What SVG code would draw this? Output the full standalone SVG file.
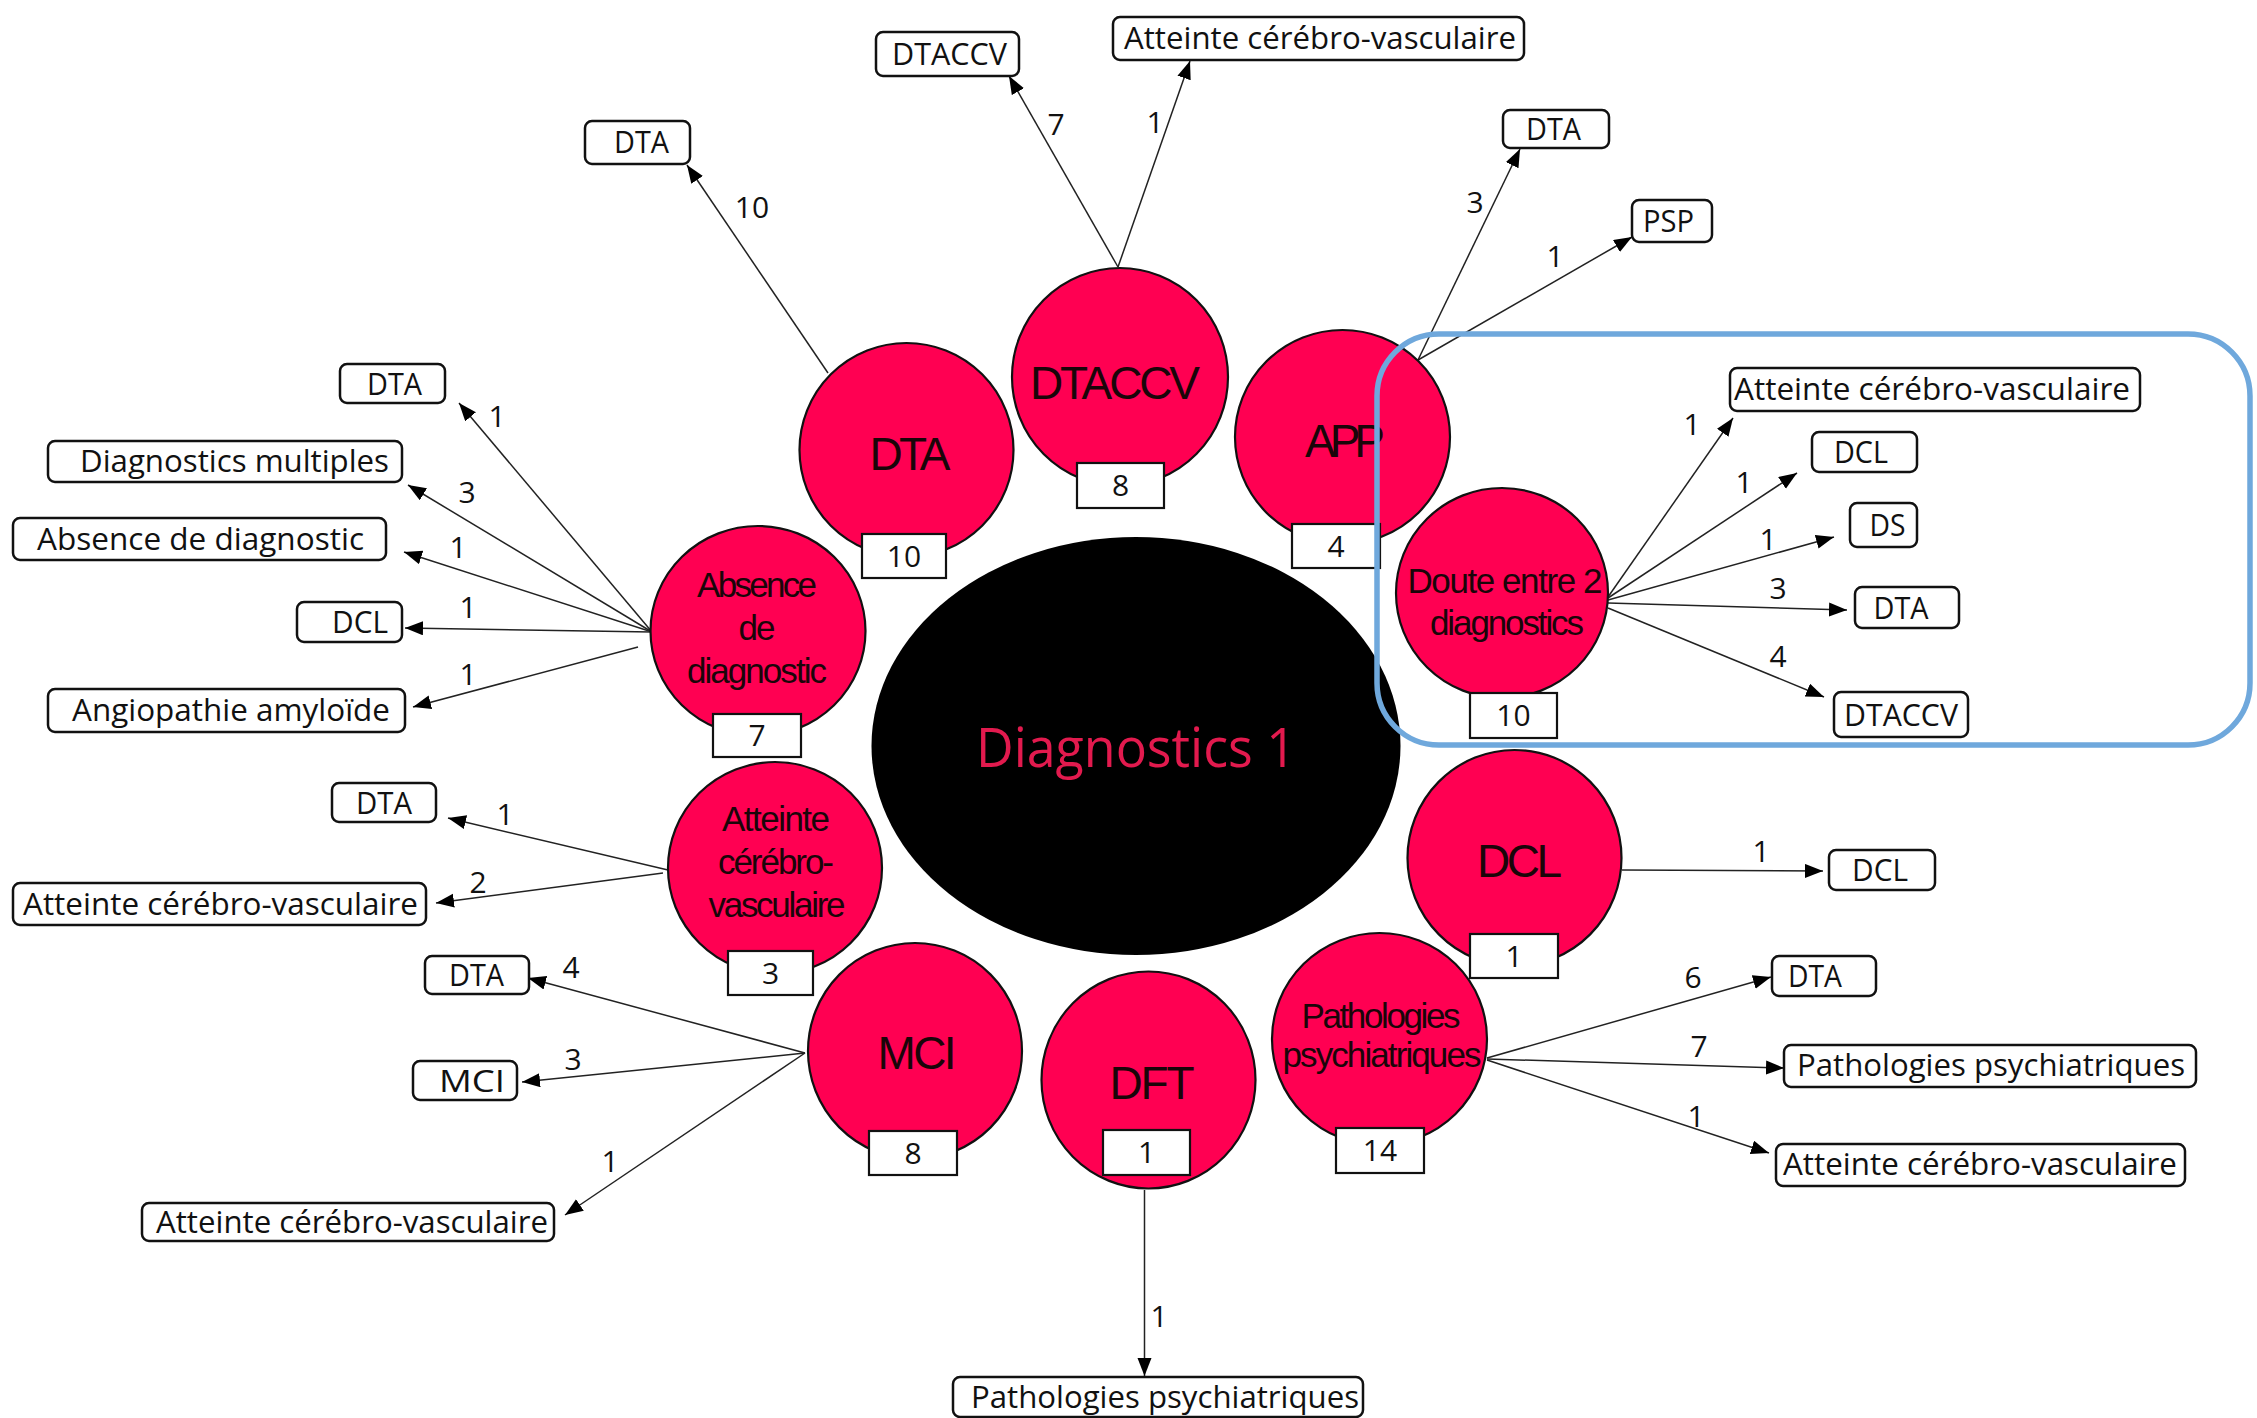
<svg xmlns="http://www.w3.org/2000/svg" width="2257" height="1418" viewBox="0 0 2257 1418">
  <style>
    .bubble { fill: #FF0052; stroke: #111; stroke-width: 2.2; }
    .core { fill: #000; }
    .core-label { font-family: "Open Sans", "Liberation Sans", sans-serif; font-size: 55px; fill: #E21A4E; text-anchor: middle; }
    .big { font-family: "Liberation Sans", Arial, sans-serif; font-size: 46px; fill: #1a0509; text-anchor: middle; }
    .small { font-family: "Liberation Sans", Arial, sans-serif; font-size: 35px; fill: #1a0509; text-anchor: middle; }
    .count rect { fill: #fff; stroke: #111; stroke-width: 2.2; }
    .count text, .edge-label { font-family: "Open Sans", "Liberation Sans", sans-serif; font-size: 30px; fill: #111; text-anchor: middle; }
    .target rect { fill: #fff; stroke: #111; stroke-width: 2.5; }
    .target text { font-family: "Open Sans", "Liberation Sans", sans-serif; font-size: 31px; fill: #111; }
    .link { stroke: #222; stroke-width: 1.5; fill: none; marker-end: url(#tip); }
    .frame { fill: none; stroke: #6FA8DC; stroke-width: 5.5; }
  </style>
  <defs>
    <marker id="tip" markerWidth="20" markerHeight="16" refX="18" refY="7" orient="auto" markerUnits="userSpaceOnUse">
      <path d="M0,0 L18,7 L0,14 z" fill="#000"/>
    </marker>
  </defs>

  <rect width="2257" height="1418" fill="#fff"/>

  <!-- centre -->
  <g id="diagnostics-1">
    <ellipse class="core" cx="1136" cy="746" rx="264.5" ry="209"/>
    <text class="core-label" x="1136" y="767" textLength="320" lengthAdjust="spacingAndGlyphs">Diagnostics 1</text>
  </g>

  <!-- connectors -->
  <g id="connectors">
    <line class="link" x1="828" y1="373" x2="687" y2="165"/>
    <line class="link" x1="1118" y1="267" x2="1009" y2="76"/>
    <line class="link" x1="1118" y1="267" x2="1190" y2="61"/>
    <line class="link" x1="1418" y1="360" x2="1520" y2="149"/>
    <line class="link" x1="1418" y1="360" x2="1632" y2="237"/>
    <line class="link" x1="1608" y1="597" x2="1733" y2="418"/>
    <line class="link" x1="1608" y1="598" x2="1797" y2="473"/>
    <line class="link" x1="1608" y1="600" x2="1834" y2="537"/>
    <line class="link" x1="1608" y1="603" x2="1847" y2="610"/>
    <line class="link" x1="1608" y1="608" x2="1824" y2="697"/>
    <line class="link" x1="1622" y1="870" x2="1823" y2="871"/>
    <line class="link" x1="1487" y1="1058" x2="1771" y2="977"/>
    <line class="link" x1="1487" y1="1059" x2="1784" y2="1068"/>
    <line class="link" x1="1487" y1="1060" x2="1769" y2="1153"/>
    <line class="link" x1="1144.5" y1="1190" x2="1144.5" y2="1376"/>
    <line class="link" x1="805" y1="1053" x2="528" y2="978"/>
    <line class="link" x1="805" y1="1053" x2="522" y2="1082"/>
    <line class="link" x1="805" y1="1053" x2="565" y2="1215"/>
    <line class="link" x1="668" y1="870" x2="448" y2="818"/>
    <line class="link" x1="663" y1="873" x2="436" y2="903"/>
    <line class="link" x1="652" y1="632" x2="459" y2="403"/>
    <line class="link" x1="652" y1="632" x2="408" y2="485"/>
    <line class="link" x1="652" y1="632" x2="404" y2="552"/>
    <line class="link" x1="652" y1="632" x2="405" y2="628"/>
    <line class="link" x1="638" y1="647" x2="413" y2="707"/>
  </g>

  <!-- edge counts -->
  <g id="edge-counts">
    <text class="edge-label" x="752" y="218">10</text>
    <text class="edge-label" x="1056" y="135">7</text>
    <text class="edge-label" x="1155" y="133">1</text>
    <text class="edge-label" x="1475" y="213">3</text>
    <text class="edge-label" x="1555" y="267">1</text>
    <text class="edge-label" x="1692" y="435">1</text>
    <text class="edge-label" x="1744" y="493">1</text>
    <text class="edge-label" x="1768" y="550">1</text>
    <text class="edge-label" x="1778" y="599">3</text>
    <text class="edge-label" x="1778" y="667">4</text>
    <text class="edge-label" x="1761" y="862">1</text>
    <text class="edge-label" x="1693" y="988">6</text>
    <text class="edge-label" x="1699" y="1057">7</text>
    <text class="edge-label" x="1696" y="1127">1</text>
    <text class="edge-label" x="1159" y="1327">1</text>
    <text class="edge-label" x="571" y="978">4</text>
    <text class="edge-label" x="573" y="1070">3</text>
    <text class="edge-label" x="610" y="1172">1</text>
    <text class="edge-label" x="505" y="825">1</text>
    <text class="edge-label" x="478" y="893">2</text>
    <text class="edge-label" x="497" y="427">1</text>
    <text class="edge-label" x="467" y="503">3</text>
    <text class="edge-label" x="458" y="558">1</text>
    <text class="edge-label" x="468" y="618">1</text>
    <text class="edge-label" x="468" y="685">1</text>
  </g>

  <!-- first-diagnosis bubbles -->
  <g id="node-dta">
    <ellipse class="bubble" cx="906.5" cy="450" rx="107" ry="107"/>
    <text class="big" x="910" y="470" textLength="81" lengthAdjust="spacing">DTA</text>
    <g class="count"><rect x="862" y="534" width="84" height="44"/><text x="904" y="567">10</text></g>
  </g>
  <g id="node-dtaccv">
    <ellipse class="bubble" cx="1120" cy="377" rx="108" ry="109"/>
    <text class="big" x="1115" y="399" textLength="170" lengthAdjust="spacing">DTACCV</text>
    <g class="count"><rect x="1077" y="463" width="87" height="45"/><text x="1120.5" y="496">8</text></g>
  </g>
  <g id="node-app">
    <ellipse class="bubble" cx="1342.5" cy="437" rx="107.5" ry="107"/>
    <text class="big" x="1345" y="457" textLength="80" lengthAdjust="spacing">APP</text>
    <g class="count"><rect x="1292" y="524" width="88" height="44"/><text x="1336" y="557">4</text></g>
  </g>
  <g id="node-doute">
    <ellipse class="bubble" cx="1502" cy="593" rx="106" ry="105"/>
    <text class="small" x="1505" y="593" textLength="195" lengthAdjust="spacing">Doute entre 2</text>
    <text class="small" x="1507" y="635" textLength="154" lengthAdjust="spacing">diagnostics</text>
    <g class="count"><rect x="1470" y="693" width="87" height="45"/><text x="1513.5" y="726">10</text></g>
  </g>
  <g id="node-dcl">
    <ellipse class="bubble" cx="1514.5" cy="858" rx="107" ry="108"/>
    <text class="big" x="1519.5" y="877" textLength="85" lengthAdjust="spacing">DCL</text>
    <g class="count"><rect x="1470" y="934" width="88" height="44"/><text x="1514" y="967">1</text></g>
  </g>
  <g id="node-patho">
    <ellipse class="bubble" cx="1379.5" cy="1039" rx="107.5" ry="106"/>
    <text class="small" x="1381" y="1028" textLength="159" lengthAdjust="spacing">Pathologies</text>
    <text class="small" x="1382" y="1067" textLength="199" lengthAdjust="spacing">psychiatriques</text>
    <g class="count"><rect x="1336" y="1128" width="88" height="45"/><text x="1380" y="1161">14</text></g>
  </g>
  <g id="node-dft">
    <ellipse class="bubble" cx="1148.5" cy="1080" rx="107" ry="108.5"/>
    <text class="big" x="1152" y="1099" textLength="85" lengthAdjust="spacing">DFT</text>
    <g class="count"><rect x="1103" y="1130" width="87" height="45"/><text x="1146.5" y="1163">1</text></g>
  </g>
  <g id="node-mci">
    <ellipse class="bubble" cx="915" cy="1051" rx="107" ry="108"/>
    <text class="big" x="917" y="1069" textLength="79" lengthAdjust="spacing">MCI</text>
    <g class="count"><rect x="869" y="1131" width="88" height="44"/><text x="913" y="1164">8</text></g>
  </g>
  <g id="node-atteinte">
    <ellipse class="bubble" cx="775" cy="868" rx="107" ry="106"/>
    <text class="small" x="776" y="831" textLength="108" lengthAdjust="spacing">Atteinte</text>
    <text class="small" x="776" y="874" textLength="116" lengthAdjust="spacing">cérébro-</text>
    <text class="small" x="777" y="917" textLength="137" lengthAdjust="spacing">vasculaire</text>
    <g class="count"><rect x="728" y="951" width="85" height="44"/><text x="770.5" y="984">3</text></g>
  </g>
  <g id="node-absence">
    <ellipse class="bubble" cx="758" cy="631" rx="107.5" ry="105"/>
    <text class="small" x="757" y="597" textLength="120" lengthAdjust="spacing">Absence</text>
    <text class="small" x="757" y="640" textLength="37" lengthAdjust="spacing">de</text>
    <text class="small" x="757" y="683" textLength="140" lengthAdjust="spacing">diagnostic</text>
    <g class="count"><rect x="713" y="714" width="88" height="43"/><text x="757" y="746">7</text></g>
  </g>

  <!-- highlight frame around the "doute" branch -->
  <rect class="frame" x="1377" y="334" width="873" height="411" rx="62" ry="62"/>

  <!-- second-diagnosis outcomes -->
  <g id="out-dta-dta" class="target"><rect x="585" y="121" width="105" height="43" rx="7"/><text x="614" y="153" textLength="55" lengthAdjust="spacingAndGlyphs">DTA</text></g>
  <g id="out-dtaccv-dtaccv" class="target"><rect x="876" y="32" width="143" height="44" rx="7"/><text x="892" y="65" textLength="115" lengthAdjust="spacingAndGlyphs">DTACCV</text></g>
  <g id="out-dtaccv-acv" class="target"><rect x="1113" y="17" width="411" height="43" rx="7"/><text x="1124" y="49" textLength="392" lengthAdjust="spacingAndGlyphs">Atteinte cérébro-vasculaire</text></g>
  <g id="out-app-dta" class="target"><rect x="1503" y="110" width="106" height="38" rx="7"/><text x="1526" y="140" textLength="55" lengthAdjust="spacingAndGlyphs">DTA</text></g>
  <g id="out-app-psp" class="target"><rect x="1632" y="200" width="80" height="42" rx="7"/><text x="1643" y="232" textLength="51" lengthAdjust="spacingAndGlyphs">PSP</text></g>
  <g id="out-doute-acv" class="target"><rect x="1730" y="368" width="410" height="43" rx="7"/><text x="1734" y="400" textLength="396" lengthAdjust="spacingAndGlyphs">Atteinte cérébro-vasculaire</text></g>
  <g id="out-doute-dcl" class="target"><rect x="1812" y="432" width="105" height="40" rx="7"/><text x="1834" y="463" textLength="54" lengthAdjust="spacingAndGlyphs">DCL</text></g>
  <g id="out-doute-ds" class="target"><rect x="1850" y="503" width="67" height="44" rx="7"/><text x="1869.5" y="536" textLength="36" lengthAdjust="spacingAndGlyphs">DS</text></g>
  <g id="out-doute-dta" class="target"><rect x="1855" y="587" width="104" height="41" rx="7"/><text x="1873.5" y="619" textLength="55" lengthAdjust="spacingAndGlyphs">DTA</text></g>
  <g id="out-doute-dtaccv" class="target"><rect x="1834" y="692" width="134" height="45" rx="7"/><text x="1844" y="726" textLength="114" lengthAdjust="spacingAndGlyphs">DTACCV</text></g>
  <g id="out-dcl-dcl" class="target"><rect x="1829" y="850" width="106" height="40" rx="7"/><text x="1852" y="881" textLength="56" lengthAdjust="spacingAndGlyphs">DCL</text></g>
  <g id="out-patho-dta" class="target"><rect x="1772" y="956" width="104" height="40" rx="7"/><text x="1788" y="987" textLength="54" lengthAdjust="spacingAndGlyphs">DTA</text></g>
  <g id="out-patho-patho" class="target"><rect x="1784" y="1045" width="412" height="42" rx="7"/><text x="1797" y="1076" textLength="388" lengthAdjust="spacingAndGlyphs">Pathologies psychiatriques</text></g>
  <g id="out-patho-acv" class="target"><rect x="1776" y="1144" width="409" height="42" rx="7"/><text x="1783" y="1175" textLength="394" lengthAdjust="spacingAndGlyphs">Atteinte cérébro-vasculaire</text></g>
  <g id="out-dft-patho" class="target"><rect x="953" y="1377" width="410" height="40" rx="7"/><text x="971" y="1408" textLength="388" lengthAdjust="spacingAndGlyphs">Pathologies psychiatriques</text></g>
  <g id="out-mci-dta" class="target"><rect x="425" y="956" width="104" height="38" rx="7"/><text x="449" y="986" textLength="55" lengthAdjust="spacingAndGlyphs">DTA</text></g>
  <g id="out-mci-mci" class="target"><rect x="413" y="1061" width="104" height="39" rx="7"/><text x="439" y="1092" textLength="66" lengthAdjust="spacingAndGlyphs">MCI</text></g>
  <g id="out-mci-acv" class="target"><rect x="142" y="1203" width="412" height="38" rx="7"/><text x="156" y="1233" textLength="392" lengthAdjust="spacingAndGlyphs">Atteinte cérébro-vasculaire</text></g>
  <g id="out-acv-dta" class="target"><rect x="332" y="783" width="104" height="39" rx="7"/><text x="356" y="814" textLength="56" lengthAdjust="spacingAndGlyphs">DTA</text></g>
  <g id="out-acv-acv" class="target"><rect x="13" y="883" width="413" height="42" rx="7"/><text x="23" y="915" textLength="395" lengthAdjust="spacingAndGlyphs">Atteinte cérébro-vasculaire</text></g>
  <g id="out-abs-dta" class="target"><rect x="340" y="364" width="105" height="39" rx="7"/><text x="367" y="395" textLength="55" lengthAdjust="spacingAndGlyphs">DTA</text></g>
  <g id="out-abs-multi" class="target"><rect x="48" y="441" width="354" height="41" rx="7"/><text x="80" y="472" textLength="309" lengthAdjust="spacingAndGlyphs">Diagnostics multiples</text></g>
  <g id="out-abs-abs" class="target"><rect x="13" y="518" width="373" height="42" rx="7"/><text x="37" y="550" textLength="327" lengthAdjust="spacingAndGlyphs">Absence de diagnostic</text></g>
  <g id="out-abs-dcl" class="target"><rect x="297" y="602" width="105" height="40" rx="7"/><text x="332" y="633" textLength="56" lengthAdjust="spacingAndGlyphs">DCL</text></g>
  <g id="out-abs-angio" class="target"><rect x="48" y="689" width="357" height="43" rx="7"/><text x="72" y="721" textLength="318" lengthAdjust="spacingAndGlyphs">Angiopathie amyloïde</text></g>
</svg>
